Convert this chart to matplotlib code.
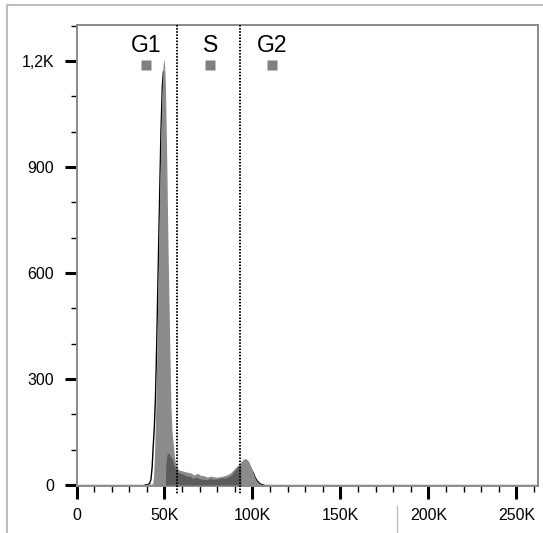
import matplotlib
matplotlib.use("Agg")
import matplotlib.pyplot as plt
from matplotlib.lines import Line2D
import numpy as np

plt.rcParams['font.family'] = ['Liberation Sans', 'DejaVu Sans']

# ---- data (x in thousands of channel units, y in counts) ----
data_k = [0, 40, 43.3, 43.8, 44.3, 44.8, 45.3, 45.8, 46.4, 47.0, 47.8, 48.5, 49.1, 49.6,
          50.0, 50.5, 51.2, 52.0, 53.0, 53.7, 54.3, 55.0, 55.8, 56.6, 57.5, 58.3, 60.0,
          61.5, 63.0, 65.0, 66.8, 68.7, 70.6, 72.5, 74.4, 76.0, 78.2, 80.0, 82.0, 84.0,
          85.8, 87.5, 88.7, 90.0, 91.5, 93.0, 94.3, 95.3, 96.3, 97.2, 98.2, 99.1, 100.0,
          101.0, 102.0, 102.9, 104.0, 105.0, 262.0]
data_counts = [2, 2, 3, 25, 80, 170, 280, 420, 600, 760, 960, 1100, 1180, 1205,
               1195, 1140, 950, 680, 400, 220, 150, 115, 75, 55, 47, 42, 40,
               38, 36, 34, 28, 33, 27, 26, 22, 25, 23, 22, 24, 26,
               29, 34, 40, 47, 55, 62, 70, 74, 74, 71, 63, 52, 40,
               26, 14, 7, 3, 2, 2]

sphase_k = [50.5, 50.8, 51.5, 52.5, 53.5, 54.5, 55.5, 56.4, 58.3, 60.0, 62.0, 63.0, 64.5,
            66.0, 67.5, 69.0, 70.5, 72.0, 74.4, 76.0, 78.0, 80.0, 82.0, 84.0, 86.0,
            87.8, 89.0, 90.6, 91.5, 92.5, 93.3, 93.5]
sphase_counts = [0, 60, 88, 90, 80, 74, 55, 45, 34, 31, 27, 24, 25,
                 18, 22, 20, 17, 16, 15, 18, 16, 17, 20, 19, 22,
                 27, 34, 45, 50, 54, 55, 0]

g1_model_k = [39.0, 40.5, 41.5, 42.3, 43.0, 43.5, 44.2, 44.9, 45.6, 46.3, 47.1, 48.0, 48.8,
              49.4, 50.0, 50.8, 51.8, 52.8, 53.8, 54.8, 55.8]
g1_model_counts = [0, 1, 4, 15, 50, 100, 160, 250, 400, 580, 780, 1000, 1130,
                   1170, 1120, 880, 560, 260, 90, 20, 0]

g2_model_k = [97.0, 99.0, 100.5, 101.5, 102.5, 103.5, 104.5, 105.5, 106.5]
g2_model_counts = [60, 48, 34, 22, 13, 7, 3, 1, 0]

gate_k = [57.0, 93.2]
gate_names = ['G1', 'S', 'G2']
gate_label_k = [39.5, 76.1, 111.2]

x_major = [0, 50000, 100000, 150000, 200000, 250000]
x_labels = ['0', '50K', '100K', '150K', '200K', '250K']
y_major = [0, 300, 600, 900, 1200]
y_labels = ['0', '300', '600', '900', '1,2K']

# ---- figure ----
W, H = 543, 533
fig = plt.figure(figsize=(W / 100, H / 100), dpi=100)
fig.patch.set_facecolor('white')

# outer frame lines
fig.add_artist(Line2D([7 / W, 1.0], [1 - 5 / H, 1 - 5 / H], color='#bdbdbd', lw=1.5))
fig.add_artist(Line2D([7 / W, 7 / W], [1 - 5 / H, 0], color='#bdbdbd', lw=1.5))
fig.add_artist(Line2D([397 / W, 397 / W], [1 - 506 / H, 0], color='#bdbdbd', lw=1.0))

L, R, T, B = 76.5, 537.7, 25, 486
ax = fig.add_axes([L / W, 1 - B / H, (R - L) / W, (B - T) / H])

xs = np.array(data_k) * 1000
ax.plot(np.array(g1_model_k) * 1000, g1_model_counts, color='black', lw=1.0, zorder=1)
ax.plot(np.array(g2_model_k) * 1000, g2_model_counts, color='black', lw=0.9, zorder=1)
ax.fill_between(xs, 0, data_counts, color='#8b8b8b', lw=0, zorder=2)
ax.fill_between(np.array(sphase_k) * 1000, 0, sphase_counts, color='#5b5b5b', lw=0, zorder=3)

for g in gate_k:
    ax.plot([g * 1000, g * 1000], [1.0, -0.017], transform=ax.get_xaxis_transform(),
            color='black', lw=1.4, linestyle=(0, (0.8, 0.8)), clip_on=False, zorder=4)

for name, k in zip(gate_names, gate_label_k):
    ax.text(k * 1000, 1243, name, ha='center', va='center', fontsize=16.5, color='black')
    ax.plot(k * 1000, 1189, marker='s', markersize=7.8, color='#808080', mec='none')

ax.set_xlim(0, 262144)
ax.set_ylim(-3, 1302)

ax.set_xticks(x_major)
ax.set_xticklabels(x_labels)
ax.set_xticks(np.arange(0, 262144, 10000), minor=True)
ax.set_yticks(y_major)
ax.set_yticklabels(y_labels)
ax.set_yticks(np.arange(0, 1301, 100), minor=True)

ax.tick_params(which='major', length=9, width=2.2, color='black', labelsize=11.5, pad=6.5)
ax.tick_params(which='minor', length=4.3, width=1.0, color='black')
ax.tick_params(axis='y', which='major', pad=7)

for s in ax.spines.values():
    s.set_color('#8a8a8a')
    s.set_linewidth(1.4)

fig.savefig('out.png', dpi=100, facecolor='white')
